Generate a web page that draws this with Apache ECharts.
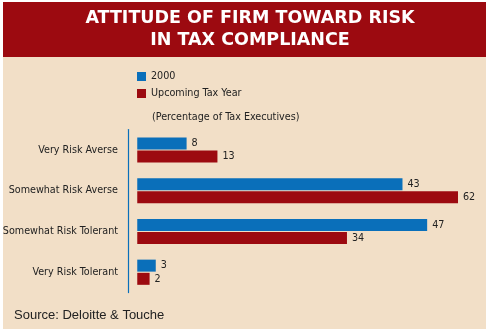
<!DOCTYPE html>
<html>
<head>
<meta charset="utf-8">
<script src="https://cdn.jsdelivr.net/npm/echarts@6/dist/echarts.min.js"></script>
<style>html,body{margin:0;padding:0;background:#fff;}#c{width:489px;height:332px;}</style>
</head>
<body>
<div id="c"></div>
<script>
const categories = ['Very Risk Averse', 'Somewhat Risk Averse', 'Somewhat Risk Tolerant', 'Very Risk Tolerant'];
const series2000 = [8, 43, 47, 3];
const seriesUpcoming = [13, 62, 34, 2];
const seriesNames = ['2000', 'Upcoming Tax Year'];
const titleLines = ['ATTITUDE OF FIRM TOWARD RISK', 'IN TAX COMPLIANCE'];
const unitNote = '(Percentage of Tax Executives)';
const sourceNote = 'Source: Deloitte & Touche';

const COND = '"DejaVu Sans Condensed", sans-serif';
const FS = 10.7;
const chart = echarts.init(document.getElementById('c'), null, {renderer: 'canvas'});
chart.setOption({
  animation: false,
  backgroundColor: '#ffffff',
  graphic: [
    {type: 'rect', z: -10, shape: {x: 3, y: 2, width: 483, height: 327}, style: {fill: '#f2dfc7'}},
    {type: 'rect', z: -9, shape: {x: 3, y: 2, width: 483, height: 55}, style: {fill: '#9c0a10'}},
    {type: 'text', x: 250, y: 29, style: {text: titleLines.join('\n'), fill: '#ffffff', font: 'bold 17.5px "DejaVu Sans", sans-serif', textAlign: 'center', textVerticalAlign: 'middle', lineHeight: 22}},
    {type: 'text', x: 152, y: 117, style: {text: unitNote, fill: '#222', font: FS + 'px ' + COND, textVerticalAlign: 'middle'}},
    {type: 'text', x: 14, y: 315, style: {text: sourceNote, fill: '#222', font: '13px "Liberation Sans", sans-serif', textVerticalAlign: 'middle'}}
  ],
  legend: {
    orient: 'vertical', left: 137, top: 71, padding: 0, itemWidth: 9, itemHeight: 9, itemGap: 6,
    icon: 'rect',
    textStyle: {color: '#222', fontSize: FS, fontFamily: COND},
    data: seriesNames
  },
  grid: {left: 128, top: 129.6, width: 330, height: 163, containLabel: false, outerBoundsMode: 'none'},
  xAxis: {type: 'value', min: -1.5, max: 52, show: false},
  yAxis: {
    type: 'category', data: categories, inverse: true,
    axisLine: {show: true, onZero: false, lineStyle: {color: '#0a6fba', width: 1.2}},
    axisTick: {show: false},
    axisLabel: {color: '#222', fontSize: FS, fontFamily: COND, margin: 10}
  },
  series: [
    {name: seriesNames[0], type: 'bar', data: series2000, barWidth: 12, barGap: '10%', clip: true,
     itemStyle: {color: '#0a6fba'},
     label: {show: true, position: 'right', distance: 5, color: '#222', fontSize: FS, fontFamily: COND}},
    {name: seriesNames[1], type: 'bar', data: seriesUpcoming, barWidth: 12, barGap: '10%', clip: true,
     itemStyle: {color: '#9c0a10'},
     label: {show: true, position: 'right', distance: 5, color: '#222', fontSize: FS, fontFamily: COND}}
  ]
});
</script>
</body>
</html>
